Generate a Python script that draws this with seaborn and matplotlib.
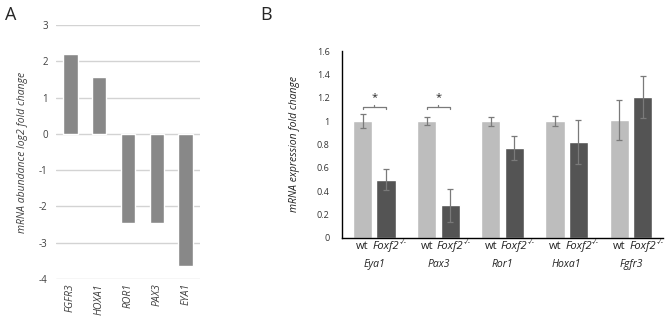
import numpy as np
import pandas as pd
import matplotlib
matplotlib.use("Agg")
import matplotlib.pyplot as plt
import seaborn as sns

# ---- Data: panel A ----
genes_a = ["FGFR3", "HOXA1", "ROR1", "PAX3", "EYA1"]
log2_fc = [2.19, 1.56, -2.46, -2.47, -3.65]

# ---- Data: panel B ----
genes_b = ["Eya1", "Pax3", "Ror1", "Hoxa1", "Fgfr3"]
genotypes = ["wt", "Foxf2-/-"]
wt_mean = [1.00, 1.00, 1.00, 1.00, 1.01]
wt_err = [0.06, 0.035, 0.038, 0.045, 0.17]
ko_mean = [0.50, 0.28, 0.77, 0.82, 1.21]
ko_err = [0.09, 0.14, 0.10, 0.19, 0.18]
significant = ["Eya1", "Pax3"]
yticks_b = [0, 0.2, 0.4, 0.6, 0.8, 1, 1.2, 1.4, 1.6]
yticklabels_b = ["0", "0.2", "0.4", "0.6", "0.8", "1", "1.2", "1.4", "1.6"]

sns.set_theme(style="white")
plt.rcParams["font.family"] = ["Open Sans", "DejaVu Sans"]

fig = plt.figure(figsize=(6.67, 3.25), dpi=100)

# ---------------- Panel A ----------------
axA = fig.add_axes([0.084, 0.1415, 0.216, 0.7815])
dfa = pd.DataFrame({"gene": genes_a, "val": log2_fc})
sns.barplot(data=dfa, x="gene", y="val", order=genes_a, color="#888888",
            width=0.5, saturation=1, ax=axA, zorder=3)
axA.set_xlim(-0.5, len(genes_a) - 0.5)
axA.set_ylim(-4, 3)
axA.set_yticks(range(-4, 4))
axA.set_yticklabels([str(v) for v in range(-4, 4)], fontsize=7, color="#404040")
axA.yaxis.grid(True, color="#d3d3d3", linewidth=1.0, zorder=0)
axA.set_axisbelow(True)
for s in axA.spines.values():
    s.set_visible(False)
axA.tick_params(axis="both", length=0, pad=3)
axA.tick_params(axis="y", pad=6)
axA.set_xticks(range(len(genes_a)))
axA.set_xticklabels(genes_a, rotation=90, fontsize=7.5, style="italic", color="#404040")
axA.set_xlabel("")
axA.set_ylabel("mRNA abundance log2 fold change", fontsize=7.5, style="italic",
               color="#404040", labelpad=8)
fig.text(0.008, 0.955, "A", fontsize=13, va="center", ha="left")

# ---------------- Panel B ----------------
axB = fig.add_axes([0.513, 0.268, 0.481, 0.575])
dfb = pd.DataFrame({
    "gene": genes_b * 2,
    "genotype": [genotypes[0]] * len(genes_b) + [genotypes[1]] * len(genes_b),
    "val": wt_mean + ko_mean,
})
sns.barplot(data=dfb, x="gene", y="val", hue="genotype", order=genes_b,
            hue_order=genotypes, palette=["#bdbdbd", "#545454"], saturation=1,
            width=0.73, gap=0.18, errorbar=None, legend=False, ax=axB)
axB.set_xlim(-0.5, len(genes_b) - 0.5)
axB.set_ylim(0, 1.6)

centers = {}
for cont, means, errs, g in zip(axB.containers, [wt_mean, ko_mean], [wt_err, ko_err], genotypes):
    xs = [p.get_x() + p.get_width() / 2 for p in cont.patches]
    centers[g] = xs
    axB.errorbar(xs, means, yerr=errs, fmt="none", ecolor="#7a7a7a",
                 elinewidth=0.9, capsize=2, capthick=0.9, zorder=5)

# significance brackets
for gname in significant:
    i = genes_b.index(gname)
    x0, x1 = centers["wt"][i], centers["Foxf2-/-"][i]
    y = 1.12
    xm = (x0 + x1) / 2
    axB.plot([x0, x0, x1, x1], [y - 0.02, y, y, y - 0.02], color="#7a7a7a", lw=0.9)
    axB.plot([xm, xm], [y, y + 0.02], color="#7a7a7a", lw=0.9)
    axB.text(xm, y + 0.035, "*", ha="center", va="bottom", fontsize=8)

axB.set_yticks(yticks_b)
axB.set_yticklabels(yticklabels_b, fontsize=6.5, color="#333333")
axB.set_xticks([])
axB.tick_params(axis="both", length=0, pad=3)
axB.tick_params(axis="y", pad=9)

trans = axB.get_xaxis_transform()
lab_y = -0.062
ko_texts = []
for i, g in enumerate(genes_b):
    axB.text(centers["wt"][i], lab_y, "wt", transform=trans, ha="center",
             va="baseline", fontsize=8, color="#222222")
    t = axB.text(centers["Foxf2-/-"][i], lab_y, "Foxf2", transform=trans,
                 ha="center", va="baseline", fontsize=8, style="italic",
                 color="#222222")
    ko_texts.append(t)
    axB.text(i, -0.155, g, transform=trans, ha="center",
             va="baseline", fontsize=7.5, style="italic", color="#222222")

fig.canvas.draw()
renderer = fig.canvas.get_renderer()
for t in ko_texts:
    bb = t.get_window_extent(renderer=renderer)
    x_disp = bb.x1 + 0.5
    y_disp = bb.y0 + bb.height * 0.75
    axB.text(x_disp, y_disp, "-/-", transform=None, ha="left", va="baseline",
             fontsize=5, style="italic", color="#222222")

axB.spines["top"].set_visible(False)
axB.spines["right"].set_visible(False)
axB.spines["left"].set_color("black")
axB.spines["bottom"].set_color("black")
axB.spines["left"].set_linewidth(1.0)
axB.spines["bottom"].set_linewidth(1.0)
axB.set_xlabel("")
axB.set_ylabel("mRNA expression fold change", fontsize=7.5, style="italic",
               color="#222222", labelpad=12)
fig.text(0.39, 0.955, "B", fontsize=13, va="center", ha="left")

fig.savefig("out.png", dpi=100)
